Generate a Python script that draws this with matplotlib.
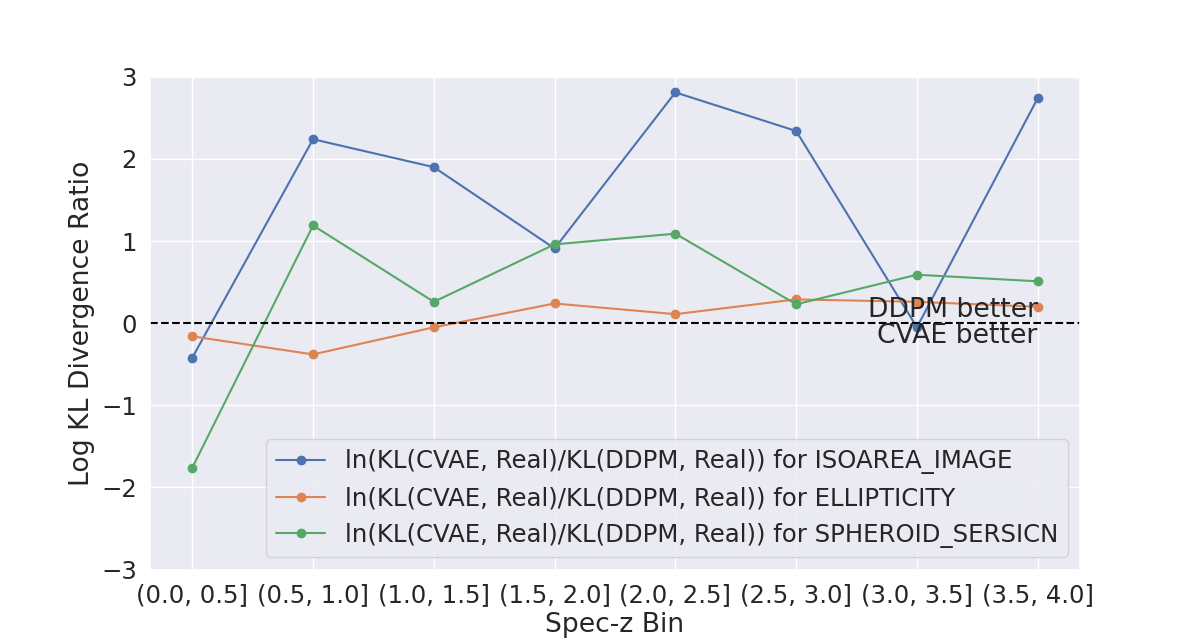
import matplotlib

matplotlib.use("Agg")

import matplotlib.pyplot as plt
import seaborn as sns

bins = ["(0.0, 0.5]", "(0.5, 1.0]", "(1.0, 1.5]", "(1.5, 2.0]",
        "(2.0, 2.5]", "(2.5, 3.0]", "(3.0, 3.5]", "(3.5, 4.0]"]
isoarea = [-0.42, 2.24, 1.90, 0.91, 2.81, 2.34, -0.05, 2.74]
ellipticity = [-0.16, -0.38, -0.05, 0.24, 0.11, 0.29, 0.26, 0.20]
sersicn = [-1.76, 1.19, 0.26, 0.96, 1.09, 0.23, 0.59, 0.51]

series = [
    ("ISOAREA_IMAGE", isoarea),
    ("ELLIPTICITY", ellipticity),
    ("SPHEROID_SERSICN", sersicn),
]

sns.set_theme(font_scale=1.6)

fig, ax = plt.subplots(figsize=(12, 6.4), dpi=100)
x = list(range(len(bins)))
for name, vals in series:
    ax.plot(x, vals, marker="o", label=f"ln(KL(CVAE, Real)/KL(DDPM, Real)) for {name}")

ax.axhline(0, color="black", linestyle="--")
ax.text(x[-1], 0.0, "DDPM better", ha="right", va="bottom")
ax.text(x[-1], 0.0, "CVAE better", ha="right", va="top")

ax.set_xticks(x)
ax.set_xticklabels(bins)
ax.set_ylim(-3, 3)
ax.set_xlabel("Spec-z Bin")
ax.set_ylabel("Log KL Divergence Ratio")
ax.legend(loc="lower right")

fig.savefig("out.png")
plt.close(fig)
